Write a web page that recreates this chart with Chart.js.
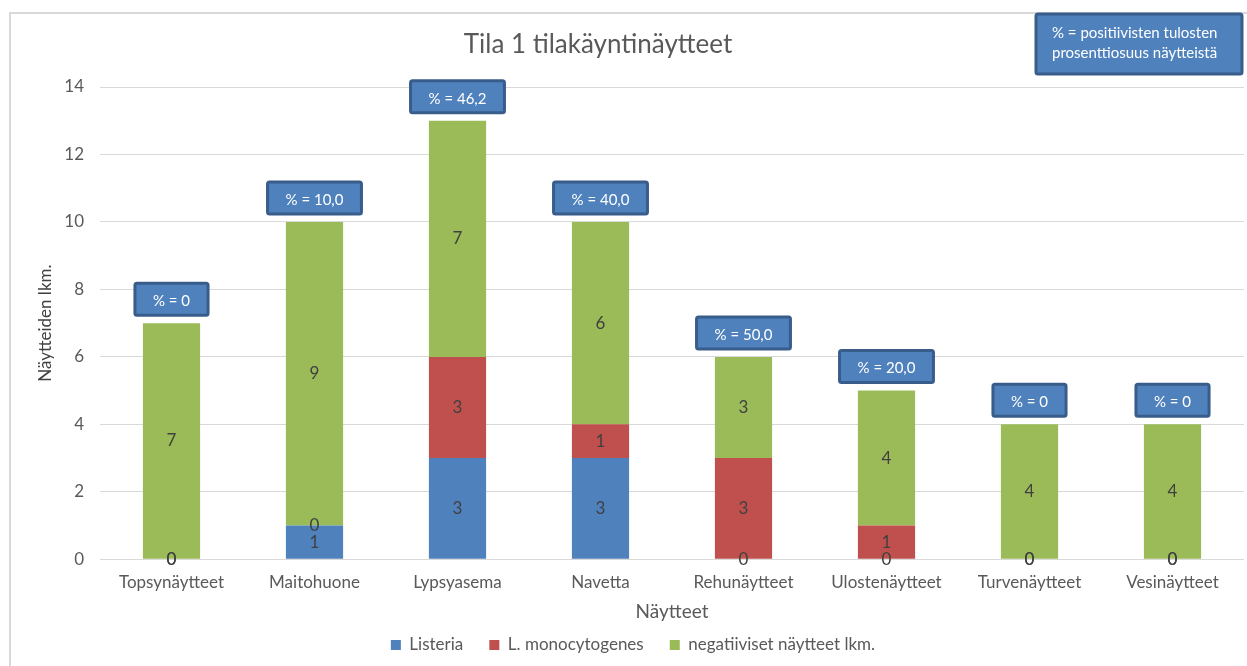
<!DOCTYPE html>
<html>
<head>
<meta charset="utf-8">
<script src="https://cdn.jsdelivr.net/npm/chart.js@4.4.1/dist/chart.umd.min.js"></script>
<style>
  html,body{margin:0;padding:0;background:#fff;overflow:hidden}
  #wrap{position:relative;width:1247px;height:666px}
</style>
</head>
<body>
<div id="wrap"><canvas id="c" width="1247" height="666"></canvas></div>
<script>
/* Tila 1 tilakäyntinäytteet — pinottu pylväs */
const categories = ['Topsynäytteet','Maitohuone','Lypsyasema','Navetta','Rehunäytteet','Ulostenäytteet','Turvenäytteet','Vesinäytteet'];
const listeria   = [0,1,3,3,0,0,0,0];
const lmono      = [0,0,3,1,3,1,0,0];
const negatiivit = [7,9,7,6,3,4,4,4];
const pctLabels  = ['0','10,0','46,2','40,0','50,0','20,0','0','0'];
const yTicks     = [0,2,4,6,8,10,12,14];

const FONT = 'Lato, "Open Sans", sans-serif';
const GREY = '#595959';

// arvot palkkien keskelle (myös nollat)
const valueLabels = {
  id:'valueLabels',
  afterDatasetsDraw(chart){
    const ctx = chart.ctx;
    ctx.save();
    ctx.font = '17px '+FONT;
    ctx.fillStyle = '#404040';
    ctx.textAlign = 'center';
    ctx.textBaseline = 'middle';
    chart.data.datasets.forEach((ds,i)=>{
      chart.getDatasetMeta(i).data.forEach((el,j)=>{
        const p = el.getCenterPoint();
        ctx.fillText(String(ds.data[j]), p.x, p.y);
      });
    });
    ctx.restore();
  }
};

// prosenttilaatikot pinon yläpuolelle
const pctBoxes = {
  id:'pctBoxes',
  afterDatasetsDraw(chart){
    const ctx = chart.ctx, ys = chart.scales.y;
    const meta = chart.getDatasetMeta(0);
    ctx.save();
    ctx.font = '15px '+FONT;
    ctx.textAlign = 'center';
    ctx.textBaseline = 'middle';
    categories.forEach((c,j)=>{
      const tot = listeria[j]+lmono[j]+negatiivit[j];
      const x = meta.data[j].x;
      const top = ys.getPixelForValue(tot);
      const txt = '% = '+pctLabels[j];
      const w = ctx.measureText(txt).width + 36, h = 32;
      const bx = x - w/2, by = top - 8 - h;
      ctx.fillStyle = '#4f81bd';
      ctx.strokeStyle = '#385d8a';
      ctx.lineWidth = 3;
      ctx.beginPath(); ctx.roundRect(bx,by,w,h,2); ctx.fill(); ctx.stroke();
      ctx.fillStyle = '#ffffff';
      ctx.fillText(txt, x, by+h/2+2);
    });
    ctx.restore();
  }
};

// kehys, otsikko ja selitelaatikko
const frame = {
  id:'frame',
  beforeDraw(chart){
    const ctx = chart.ctx;
    ctx.save();
    ctx.strokeStyle = '#d9d9d9';
    ctx.lineWidth = 2;
    ctx.strokeRect(10, 13, 1300, 700);
    ctx.restore();
  },
  afterDraw(chart){
    const ctx = chart.ctx;
    ctx.save();
    ctx.font = '26px '+FONT;
    ctx.fillStyle = GREY;
    ctx.textAlign = 'center';
    ctx.textBaseline = 'middle';
    ctx.fillText('Tila 1 tilakäyntinäytteet', 598, 45);
    ctx.fillStyle = '#4f81bd';
    ctx.strokeStyle = '#385d8a';
    ctx.lineWidth = 3;
    ctx.beginPath(); ctx.roundRect(1036,14,206,60,2); ctx.fill(); ctx.stroke();
    ctx.font = '15px '+FONT;
    ctx.fillStyle = '#ffffff';
    ctx.textAlign = 'left';
    ctx.fillText('% = positiivisten tulosten', 1052, 33);
    ctx.fillText('prosenttiosuus näytteistä', 1052, 53);
    ctx.restore();
  }
};

new Chart(document.getElementById('c'),{
  type:'bar',
  data:{
    labels: categories,
    datasets:[
      {label:'Listeria', data:listeria, backgroundColor:'#4f81bd'},
      {label:'L. monocytogenes', data:lmono, backgroundColor:'#c0504d'},
      {label:'negatiiviset näytteet lkm.', data:negatiivit, backgroundColor:'#9bbb59'}
    ]
  },
  options:{
    responsive:false, animation:false,
    categoryPercentage:0.8, barPercentage:0.5,
    layout:{ padding:{ left:35, right:3, top:87, bottom:2.5 } },
    plugins:{
      title:{display:false},
      tooltip:{enabled:false},
      legend:{
        position:'bottom',
        labels:{
          boxWidth:10, boxHeight:10, padding:13, color:GREY, font:{family:FONT,size:17},
          // väliä selitteiden välille kuten alkuperäisessä
          generateLabels(chart){
            return Chart.defaults.plugins.legend.labels.generateLabels(chart)
              .map(l=>({...l, text:l.text+'   '}));
          }
        }
      }
    },
    scales:{
      x:{
        stacked:true,
        grid:{display:false},
        border:{display:false},
        ticks:{ color:GREY, font:{family:FONT,size:17}, padding:5 },
        title:{ display:true, text:'Näytteet', color:GREY, font:{family:FONT,size:19}, padding:{top:3,bottom:0} }
      },
      y:{
        stacked:true, min:0, max:14,
        afterBuildTicks(s){ s.ticks = yTicks.map(v=>({value:v})); },
        afterFit(s){ s.width = 65; },
        grid:{ color:'#d9d9d9', drawTicks:false },
        border:{display:false},
        ticks:{ color:GREY, font:{family:FONT,size:17}, padding:16 },
        title:{ display:true, text:'Näytteiden lkm.', color:'#404040', font:{family:FONT,size:17}, padding:{top:0,bottom:0} }
      }
    }
  },
  plugins:[frame, valueLabels, pctBoxes]
});
</script>
</body>
</html>
